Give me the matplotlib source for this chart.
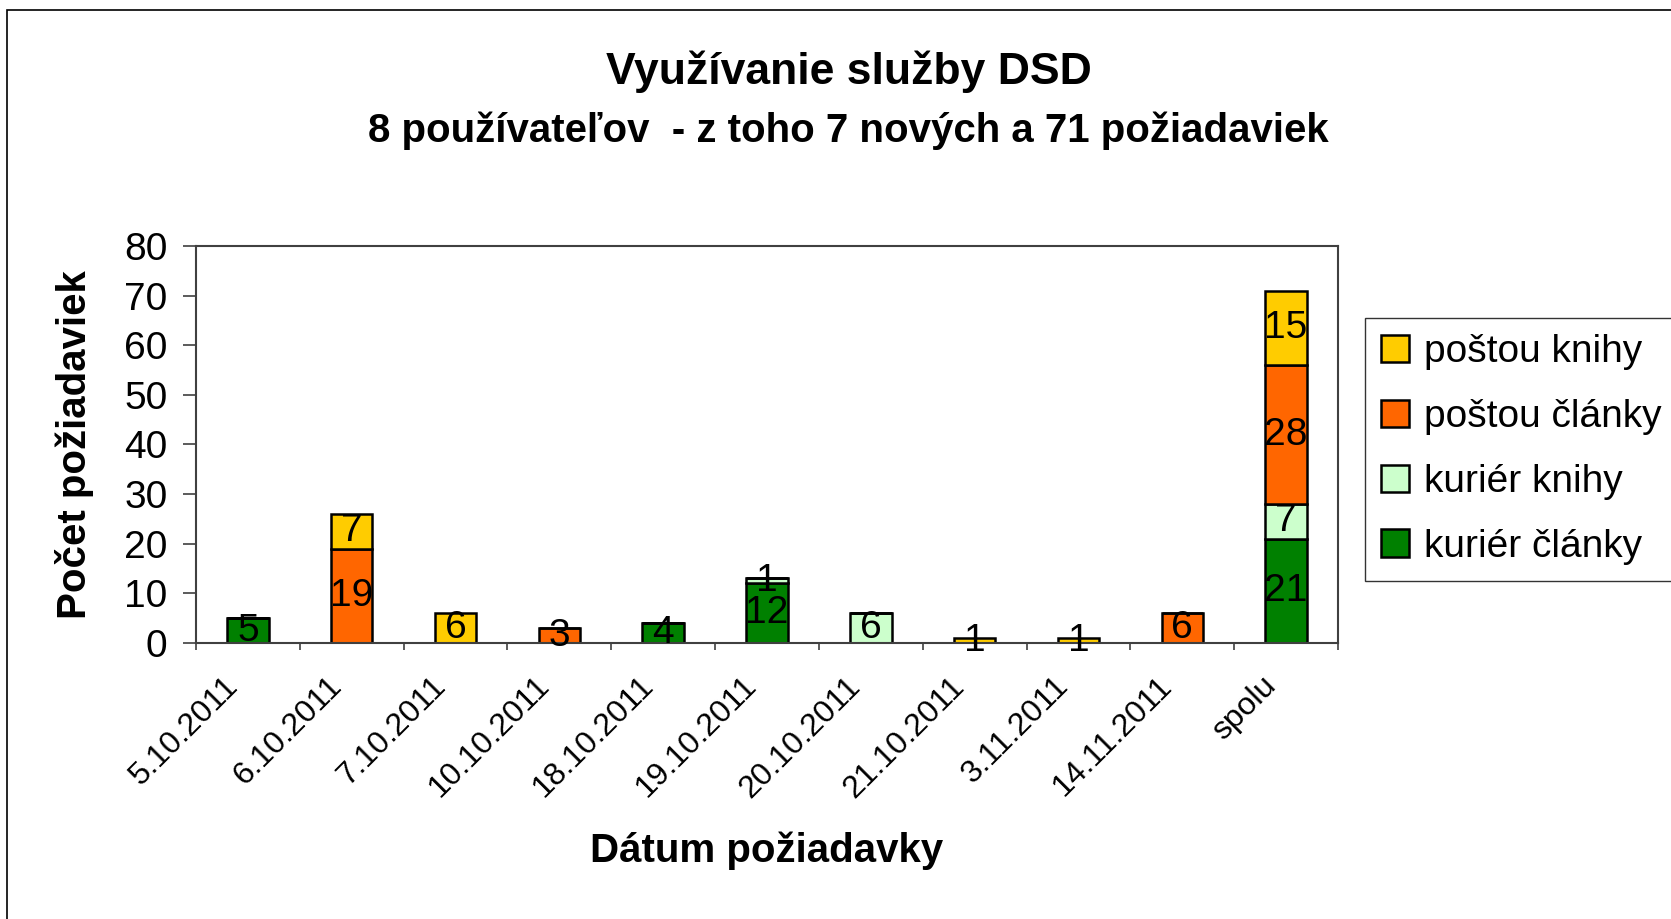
import numpy as np
import matplotlib.pyplot as plt
from matplotlib.patches import Rectangle
from matplotlib.transforms import ScaledTranslation

plt.rcParams['font.family'] = ['Liberation Sans', 'DejaVu Sans']

dates = ['5.10.2011', '6.10.2011', '7.10.2011', '10.10.2011', '18.10.2011',
         '19.10.2011', '20.10.2011', '21.10.2011', '3.11.2011', '14.11.2011', 'spolu']
kurier_clanky = [5, 0, 0, 0, 4, 12, 0, 0, 0, 0, 21]
kurier_knihy = [0, 0, 0, 0, 0, 1, 6, 0, 0, 0, 7]
postou_clanky = [0, 19, 0, 3, 0, 0, 0, 0, 0, 6, 28]
postou_knihy = [0, 7, 6, 0, 0, 0, 0, 1, 1, 0, 15]

series = [('kuriér články', kurier_clanky, '#008000'),
          ('kuriér knihy', kurier_knihy, '#CCFFCC'),
          ('poštou články', postou_clanky, '#FF6600'),
          ('poštou knihy', postou_knihy, '#FFCC00')]

W, H = 1671, 919
fig = plt.figure(figsize=(W / 100, H / 100), dpi=100)
ax = fig.add_axes([196 / W, 1 - 643 / H, (1338 - 196) / W, (643 - 246) / H])

x = np.arange(len(dates))
bottom = np.zeros(len(dates))
for name, vals, col in series:
    vals = np.array(vals)
    bars = ax.bar(x, vals, 0.4, bottom=bottom, color=col, edgecolor='black',
                  linewidth=1.8, label=name)
    ax.bar_label(bars, labels=[str(v) if v else '' for v in vals],
                 label_type='center', fontsize=28)
    bottom += vals

ax.set_xlim(-0.5, len(dates) - 0.5)
ax.set_ylim(0, 80)
ax.set_yticks(range(0, 81, 10))
ax.tick_params(axis='y', labelsize=28, length=9.5, width=1.2, color='#404040', pad=11)
ax.set_xticks(x)
ax.set_xticklabels(dates, rotation=45, ha='right', rotation_mode='anchor', fontsize=23)
ax.tick_params(axis='x', which='major', length=0, pad=18)
shift = ScaledTranslation(-0.25, -0.03, fig.dpi_scale_trans)
for lbl in ax.get_xticklabels():
    lbl.set_transform(lbl.get_transform() + shift)
ax.set_xticks(np.arange(-0.5, len(dates), 1), minor=True)
ax.tick_params(axis='x', which='minor', length=5, width=1.2, color='#404040')
for s in ax.spines.values():
    s.set_color('#404040')
    s.set_linewidth(1.5)

ax.set_ylabel('Počet požiadaviek', fontsize=29, fontweight='bold')
ax.set_xlabel('Dátum požiadavky', fontsize=29, fontweight='bold')
ax.xaxis.set_label_coords(0.5, 1 - (831 - 246) / (643 - 246))
ax.yaxis.set_label_coords((94 - 196) / (1338 - 196), 0.5)

fig.text(849 / W, 1 - 72 / H, 'Využívanie služby DSD', fontsize=32,
         fontweight='bold', ha='center', va='center')
fig.text(848 / W, 1 - 131 / H, '8 používateľov  - z toho 7 nových a 71 požiadaviek',
         fontsize=29, fontweight='bold', ha='center', va='center')

handles, labels = ax.get_legend_handles_labels()
leg = fig.legend(handles[::-1], labels[::-1], loc='upper left',
                 bbox_to_anchor=(1365 / W, 1 - 318 / H), bbox_transform=fig.transFigure,
                 fontsize=28, frameon=True, fancybox=False, borderaxespad=0,
                 handlelength=0.7, handleheight=0.7, handletextpad=0.4,
                 labelspacing=0.74, borderpad=0.42)
leg.get_frame().set_edgecolor('black')
leg.get_frame().set_linewidth(1.0)

fig.patches.append(Rectangle((7 / W, -0.1), 2, 1 - 10 / H + 0.1, transform=fig.transFigure,
                             fill=False, edgecolor='black', linewidth=1.2))

fig.savefig('out.png', dpi=100)
